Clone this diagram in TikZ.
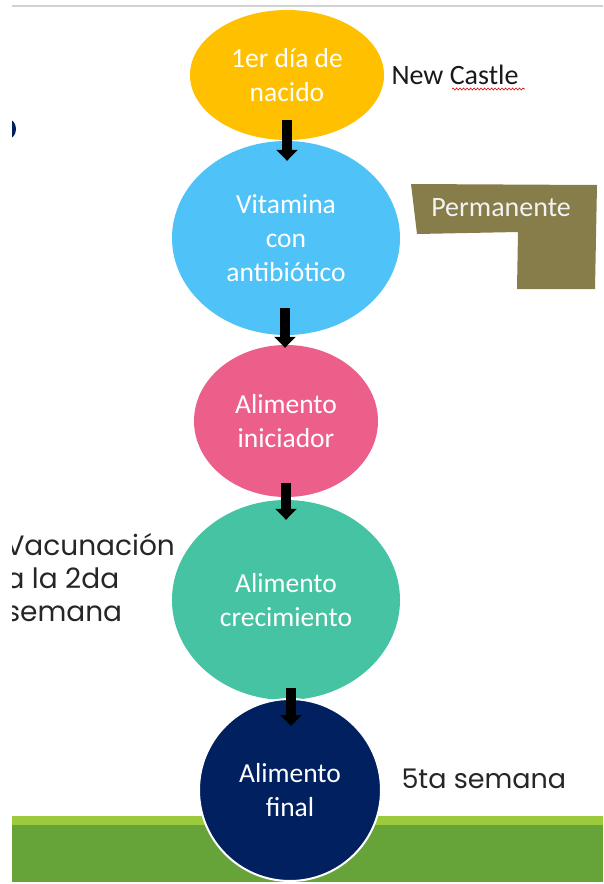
\documentclass[tikz,border=0pt]{standalone}
\usepackage{fontspec}
\setmainfont{Carlito}
\newfontfamily\geofont{Poppins}
\usetikzlibrary{shapes.geometric,arrows.meta,decorations.pathmorphing}
\definecolor{cyel}{HTML}{FFC000}
\definecolor{cblue}{HTML}{4FC3F7}
\definecolor{cpink}{HTML}{EC5F8A}
\definecolor{cteal}{HTML}{45C3A3}
\definecolor{cnavy}{HTML}{002060}
\definecolor{colive}{HTML}{867D4B}
\definecolor{cglight}{HTML}{9BCB3C}
\definecolor{cgdark}{HTML}{66A439}
\definecolor{ctext}{HTML}{262626}
\tikzset{
  stage/.style={ellipse, inner sep=0pt, text=white, align=center, font=\fontsize{27.5}{34}\selectfont},
  flowarrow/.style={draw=black, line width=10pt, -{Triangle[width=21pt,length=11pt]}},
  sidetext/.style={text=ctext, align=left, anchor=west},
}
\begin{document}
\begin{tikzpicture}[x=1pt,y=-1pt]
\useasboundingbox (0,0) rectangle (603,884);
\fill[white] (0,0) rectangle (603,884);
% top rule
\draw[line width=2pt, black!18] (12,6) -- (603,6);
% green band
\fill[cgdark] (12,816) rectangle (603,882);
\fill[cglight] (12,816) rectangle (603,825);
% left clipped elements
\begin{scope}
\clip (12,0) rectangle (603,884);
\fill[cnavy] (8,129) ellipse (8 and 10);
\node[sidetext, font=\geofont\fontsize{28}{33}\selectfont] (vac) at (2,578) {Vacunación\\a la 2da\\semana};
\end{scope}
% stages
\node[stage, fill=cyel, minimum width=194pt, minimum height=130pt] (s1) at (287,75) {1er día de\\nacido};
\node[stage, fill=cblue, minimum width=228pt, minimum height=194pt] (s2) at (286,238) {Vitamina\\con\\antibiótico};
\node[stage, fill=cpink, minimum width=184pt, minimum height=152pt] (s3) at (286,421) {Alimento\\iniciador};
\node[stage, fill=cteal, minimum width=228pt, minimum height=200pt] (s4) at (286,600) {Alimento\\crecimiento};
\node[stage, fill=cnavy, draw=white, line width=2pt, minimum width=182pt, minimum height=182pt] (s5) at (290,790) {Alimento\\final};
% arrows
\draw[flowarrow] ([yshift=20pt]s1.south) -- ([xshift=1pt,yshift=-20pt]s2.north);
\draw[flowarrow] ([xshift=-1pt,yshift=27pt]s2.south) -- ([xshift=-1pt,yshift=-3pt]s3.north);
\draw[flowarrow] ([yshift=14pt]s3.south) -- ([yshift=-20pt]s4.north);
\draw[flowarrow] ([xshift=5pt,yshift=12pt]s4.south) -- ([xshift=1pt,yshift=-28pt]s5.north);
% permanente
\fill[colive] (411,184) -- (597,185) -- (595,289) -- (517,289) -- (518,232) -- (417,234) -- cycle;
\node[text=white!95!black, font=\fontsize{28}{30}\selectfont] (perm) at (501,208) {Permanente};
% labels
\node[anchor=west, text=black!90, font=\fontsize{28}{30}\selectfont] (nc) at (388,75) {New Castle};
\coordinate (wv1) at (452,89);
\coordinate (wv2) at (525,89);
\draw[red!85!black, line width=0.6pt, decorate, decoration={snake, amplitude=1pt, segment length=3.5pt}] (wv1) -- (wv2);
\node[sidetext, font=\geofont\fontsize{27}{30}\selectfont] (qs) at (398,779) {5ta semana};
\end{tikzpicture}
\end{document}
